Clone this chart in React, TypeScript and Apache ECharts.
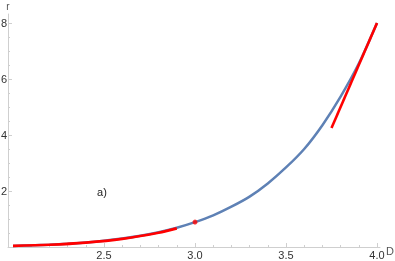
import React, { useEffect, useRef } from "react";
import * as echarts from "echarts";

// Curve r(D)
const dValues = [2.0, 2.1, 2.2, 2.3, 2.4, 2.5, 2.6, 2.7, 2.8, 2.9, 3.0, 3.1, 3.2, 3.3, 3.4, 3.5, 3.6, 3.7, 3.8, 3.9, 4.0];
const rValues = [0.04, 0.058, 0.083, 0.116, 0.162, 0.223, 0.301, 0.4, 0.527, 0.687, 0.887, 1.13, 1.44, 1.8, 2.27, 2.84, 3.5, 4.35, 5.37, 6.55, 8.0];

// Red approximation near low D
const lowD = [2.0, 2.2, 2.4, 2.6, 2.8, 2.9];
const lowR = [0.04, 0.08, 0.157, 0.29, 0.51, 0.665];

// Red tangent line near D = 4
const highD = [3.75, 4.0];
const highR = [4.25, 8.0];

// Red point
const pointD = 3.0;
const pointR = 0.89;

// Ticks
const xLabelTicks = [2.5, 3.0, 3.5, 4.0];
const xMinorTicks = [2.0, 2.1, 2.2, 2.3, 2.4, 2.6, 2.7, 2.8, 2.9, 3.1, 3.2, 3.3, 3.4, 3.6, 3.7, 3.8, 3.9];
const yLabelTicks = [2, 4, 6, 8];
const yMinorTicks = [0.5, 1, 1.5, 2.5, 3, 3.5, 4.5, 5, 5.5, 6.5, 7, 7.5];

const FONT = "'Liberation Sans', Arial, sans-serif";
const AXIS_COLOR = "#cfcfcf";

export default function App() {
  const ref = useRef<HTMLDivElement>(null);
  useEffect(() => {
    if (!ref.current) return;
    const chart = echarts.init(ref.current, null, { renderer: "svg" });
    const xMin = 1.9725;
    const xMax = 4.0165;
    const yMin = 0;
    const yMax = 8.32;
    chart.setOption({
      animation: false,
      grid: { left: 8, right: 15, top: 14, bottom: 14, containLabel: false, outerBoundsMode: "none" },
      xAxis: [
        {
          type: "value",
          min: xMin,
          max: xMax,
          splitLine: { show: false },
          axisLine: { show: true, onZero: false, lineStyle: { color: AXIS_COLOR, width: 1 } },
          axisTick: { show: true, inside: true, length: 4, customValues: xLabelTicks, lineStyle: { color: AXIS_COLOR } },
          axisLabel: {
            show: true,
            customValues: xLabelTicks,
            formatter: (v: number) => v.toFixed(1),
            color: "#333",
            fontSize: 11,
            fontFamily: FONT,
            margin: 2,
          },
        },
        {
          type: "value",
          min: xMin,
          max: xMax,
          position: "bottom",
          splitLine: { show: false },
          axisLine: { show: false, onZero: false },
          axisTick: { show: true, inside: true, length: 2, customValues: xMinorTicks, lineStyle: { color: AXIS_COLOR } },
          axisLabel: { show: false },
        },
      ],
      yAxis: [
        {
          type: "value",
          min: yMin,
          max: yMax,
          splitLine: { show: false },
          axisLine: { show: true, onZero: false, lineStyle: { color: AXIS_COLOR, width: 1 } },
          axisTick: { show: true, inside: true, length: 4, customValues: yLabelTicks, lineStyle: { color: AXIS_COLOR } },
          axisLabel: {
            show: true,
            customValues: yLabelTicks,
            formatter: (v: number) => String(v),
            color: "#333",
            fontSize: 11,
            fontFamily: FONT,
            margin: 1,
          },
        },
        {
          type: "value",
          min: yMin,
          max: yMax,
          position: "left",
          offset: 0,
          splitLine: { show: false },
          axisLine: { show: false, onZero: false },
          axisTick: { show: true, inside: true, length: 2, customValues: yMinorTicks, lineStyle: { color: AXIS_COLOR } },
          axisLabel: { show: false },
        },
      ],
      series: [
        {
          type: "line",
          data: dValues.map((d, i) => [d, rValues[i]]),
          smooth: 0.3,
          showSymbol: false,
          lineStyle: { color: "#5E81B5", width: 2.5 },
          z: 2,
        },
        {
          type: "line",
          data: lowD.map((d, i) => [d, lowR[i]]),
          smooth: 0.3,
          showSymbol: false,
          lineStyle: { color: "#FF0000", width: 2.6 },
          z: 3,
        },
        {
          type: "line",
          data: highD.map((d, i) => [d, highR[i]]),
          showSymbol: false,
          lineStyle: { color: "#FF0000", width: 2.6 },
          z: 3,
        },
        {
          type: "scatter",
          data: [[pointD, pointR]],
          symbol: "circle",
          symbolSize: 5,
          itemStyle: { color: "#FF0000" },
          z: 4,
        },
      ],
      graphic: [
        {
          type: "text",
          x: 102,
          y: 192,
          style: { text: "a)", fill: "#222", font: `11px ${FONT}`, textAlign: "center", textVerticalAlign: "middle" },
        },
        {
          type: "text",
          x: 390,
          y: 251,
          style: { text: "D", fill: "#555", font: `11px ${FONT}`, textAlign: "center", textVerticalAlign: "middle" },
        },
        {
          type: "text",
          x: 8,
          y: 6,
          style: { text: "r", fill: "#555", font: `10px ${FONT}`, textAlign: "center", textVerticalAlign: "middle" },
        },
      ],
    });
    return () => chart.dispose();
  }, []);
  return <div ref={ref} style={{ position: "fixed", left: 0, top: 0, width: 395, height: 261 }} />;
}
